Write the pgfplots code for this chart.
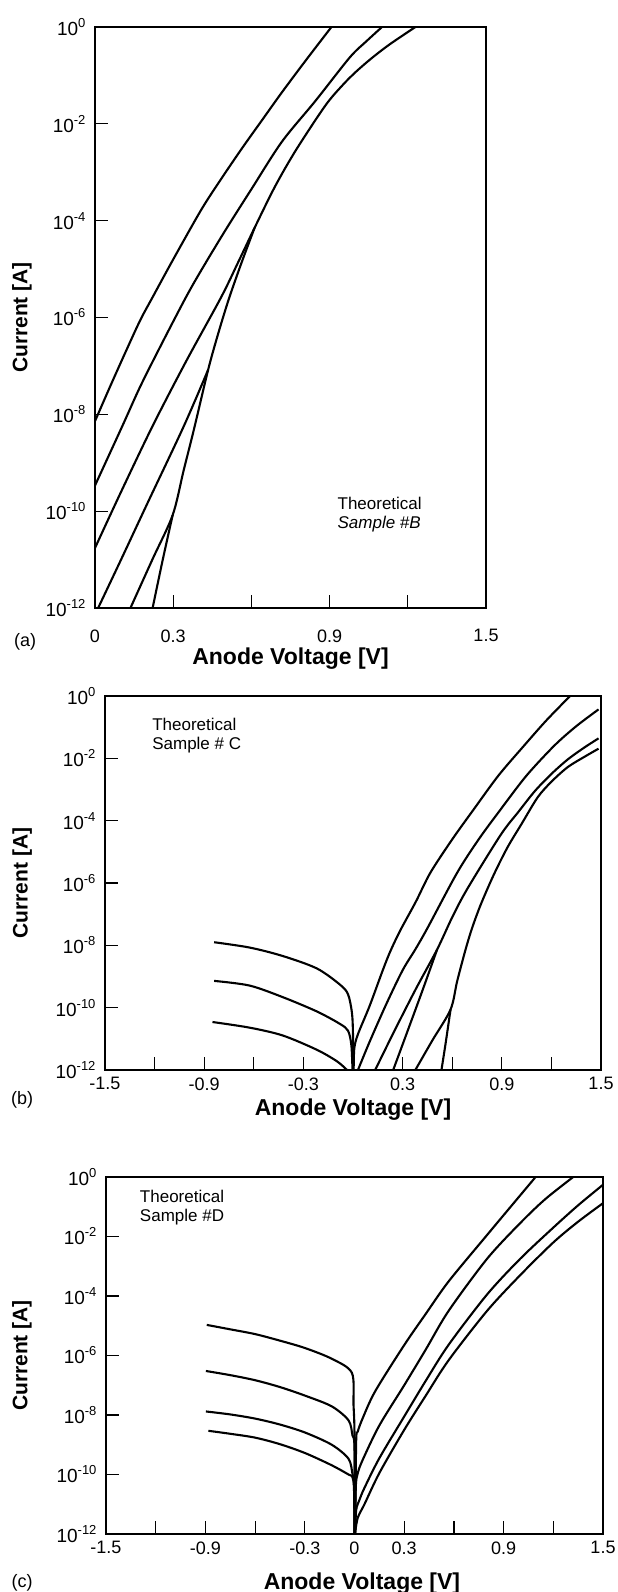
\documentclass[border=0pt]{standalone}
\usepackage{fontspec}
\setmainfont{Liberation Sans}
\usepackage{pgfplots}
\pgfplotsset{compat=1.18}
\newcommand\pw[1]{10\raisebox{0.42em}{\fontsize{13}{13}\selectfont #1}}
\pgfplotsset{
  crv/.style={black, line width=2.1pt, line join=round, smooth, tension=0.5, mark=none},
  every axis/.append style={
    scale only axis,
    clip mode=individual,
    tick align=inside,
    xtick pos=bottom, ytick pos=left,
    major tick length=13pt,
    tick style={black, line width=1.2pt},
    axis line style={line width=1.2pt},
    tick label style={font=\fontsize{18}{18}\selectfont},
    yticklabel style={font=\fontsize{19}{19}\selectfont, xshift=-6pt},
    ylabel style={font=\fontsize{21}{21}\selectfont\bfseries},
    xlabel style={font=\fontsize{23}{23}\selectfont\bfseries},
    ymode=log, ymin=1e-12, ymax=1,
    ytick={1e-12,1e-10,1e-8,1e-6,1e-4,1e-2,1},
    yticklabels={\pw{-12},\pw{-10},\pw{-8},\pw{-6},\pw{-4},\pw{-2},\pw{0}},
  },
}
\begin{document}
\begin{tikzpicture}
\useasboundingbox (0pt,0pt) rectangle (618pt,-1592pt);
% ---------------- (a) ----------------
\begin{axis}[
  at={(95pt,-27pt)}, anchor=north west,
  width=391pt, height=581pt,
  xmin=0, xmax=1.5,
  xtick={0,0.3,0.6,0.9,1.2,1.5},
  xticklabels={0,0.3,,0.9,,1.5},
  xticklabel style={yshift=-18pt},
  ylabel={Current [A]}, xlabel={Anode Voltage [V]},
  ylabel style={at={(axis description cs:-0.187,0.5)}, anchor=center},
  xlabel style={at={(axis description cs:0.5,-0.087)}, anchor=center},
]
\addplot[crv] coordinates {(0,7.24e-9) (0.06,3.98e-8) (0.12,2.09e-7) (0.174,8.91e-7) (0.221,2.63e-6) (0.30,1.585e-5) (0.407,1.66e-4) (0.48,6.76e-4) (0.562,3.02e-3) (0.64,1.175e-2) (0.717,4.47e-2) (0.81,0.209) (0.907,1)};
\addplot[crv] coordinates {(0,3.39e-10) (0.105,5.75e-9) (0.174,3.80e-8) (0.26,3.16e-7) (0.349,2.63e-6) (0.407,9.33e-6) (0.50,6.31e-5) (0.60,4.47e-4) (0.717,4.27e-3) (0.845,2.95e-2) (0.977,0.234) (1.04,0.501) (1.101,1)};
\addplot[crv] coordinates {(0,1.738e-11) (0.10,2.51e-10) (0.221,5.75e-9) (0.35,1.259e-7) (0.484,2.63e-6) (0.55,1.413e-5) (0.612,7.08e-5) (0.69,5.01e-4) (0.77,2.82e-3) (0.884,2.40e-2) (0.95,6.31e-2) (1.00,0.1175) (1.06,0.224) (1.13,0.4365) (1.229,1)};
\addplot[crv] coordinates {(0.012,1e-12) (0.10,1e-11) (0.20,1.413e-10) (0.341,5.75e-9) (0.434,8.32e-8)};
\addplot[crv] coordinates {(0.136,1e-12) (0.22,1e-11) (0.298,8.32e-11) (0.34,6.92e-10) (0.38,5.01e-9) (0.434,8.32e-8) (0.47,4.17e-7) (0.512,2.29e-6) (0.56,1.259e-5) (0.612,7.08e-5)};
\addplot[crv] coordinates {(0.221,1e-12) (0.26,1e-11) (0.298,8.32e-11)};
\node[anchor=north west, inner sep=0pt, align=left, font=\fontsize{17}{19}\selectfont] at (axis description cs:0.62,0.191) {Theoretical\\\textit{Sample \#B}};
\node[font=\fontsize{18}{18}\selectfont] at (axis description cs:-0.179,-0.0585) {(a)};
\end{axis}
% ---------------- (b) ----------------
\begin{axis}[
  at={(105pt,-696pt)}, anchor=north west,
  width=496pt, height=374pt,
  xmin=-1.5, xmax=1.5,
  xtick={-1.5,-1.2,-0.9,-0.6,-0.3,0,0.3,0.6,0.9,1.2,1.5},
  xticklabels={-1.5,,-0.9,,-0.3,,0.3,,0.9,,1.5},
  xticklabel style={yshift=-4pt},
  ylabel={Current [A]}, xlabel={Anode Voltage [V]},
  ylabel style={at={(axis description cs:-0.167,0.5)}, anchor=center},
  xlabel style={at={(axis description cs:0.5,-0.106)}, anchor=center},
]
\addplot[crv] coordinates {(-0.84,1.259e-8) (-0.626,8.51e-9) (-0.426,4.57e-9) (-0.219,1.82e-9) (-0.079,5.50e-10) (-0.03,2.69e-10) (-0.006,6.61e-11) (0,1.259e-11) (0.001,1e-12)};
\addplot[crv] coordinates {(-0.84,7.24e-10) (-0.626,5.13e-10) (-0.426,2.19e-10) (-0.219,7.59e-11) (-0.079,3.02e-11) (-0.03,1.82e-11) (-0.01,6.31e-12) (-0.003,1e-12)};
\addplot[crv] coordinates {(-0.85,3.47e-11) (-0.626,2.29e-11) (-0.426,1.288e-11) (-0.219,4.47e-12) (-0.097,1.905e-12) (-0.036,1e-12)};
\addplot[crv] coordinates {(0.004,1e-12) (0.008,5.01e-12) (0.03,1.413e-11) (0.10,1.122e-10) (0.18,1.585e-9) (0.225,6.31e-9) (0.286,3.02e-8) (0.38,2.51e-7) (0.468,2.14e-6) (0.60,2.51e-5) (0.731,2.34e-4) (0.88,2.82e-3) (1.035,2.57e-2) (1.17,0.166) (1.313,1)};
\addplot[crv] coordinates {(0.03,1e-12) (0.10,7.94e-12) (0.20,1.259e-10) (0.30,1.585e-9) (0.377,7.41e-9) (0.45,3.55e-8) (0.63,2.14e-6) (0.76,2.51e-5) (0.894,2.34e-4) (1.05,2.82e-3) (1.218,2.57e-2) (1.35,0.1072) (1.485,0.3715)};
\addplot[crv] coordinates {(0.134,1e-12) (0.25,1.778e-11) (0.38,3.98e-10) (0.509,7.41e-9) (0.60,7.94e-8) (0.691,6.46e-7) (0.894,3.55e-5) (1.0,1.905e-4) (1.1,8.91e-4) (1.2,3.16e-3) (1.3,9.33e-3) (1.4,2.24e-2) (1.485,4.37e-2)};
\addplot[crv] coordinates {(0.243,1e-12) (0.33,1.778e-11) (0.42,3.55e-10) (0.509,7.41e-9)};
\addplot[crv] coordinates {(0.377,1e-12) (0.48,8.91e-12) (0.59,8.71e-11) (0.63,7.08e-10) (0.681,7.41e-9) (0.72,3.55e-8) (0.772,1.995e-7) (0.85,1.778e-6) (0.934,1.38e-5) (1.02,7.94e-5) (1.117,5.62e-4) (1.2,1.778e-3) (1.299,5.25e-3) (1.4,1.122e-2) (1.485,2.04e-2)};
\addplot[crv] coordinates {(0.535,1e-12) (0.56,7.08e-12) (0.59,8.71e-11)};
\node[anchor=north west, inner sep=0pt, align=left, font=\fontsize{17}{19}\selectfont] at (axis description cs:0.095,0.941) {Theoretical\\Sample \# C};
\node[font=\fontsize{18}{18}\selectfont] at (axis description cs:-0.167,-0.080) {(b)};
\end{axis}
% ---------------- (c) ----------------
\begin{axis}[
  at={(106pt,-1177pt)}, anchor=north west,
  width=497pt, height=357pt,
  xmin=-1.5, xmax=1.5,
  xtick={-1.5,-1.2,-0.9,-0.6,-0.3,0,0.3,0.6,0.9,1.2,1.5},
  xticklabels={-1.5,,-0.9,,-0.3,0,0.3,,0.9,,1.5},
  xticklabel style={yshift=-4pt},
  ylabel={Current [A]}, xlabel={Anode Voltage [V]},
  ylabel style={at={(axis description cs:-0.169,0.5)}, anchor=center},
  xlabel style={at={(axis description cs:0.515,-0.138)}, anchor=center},
]
\addplot[crv] coordinates {(-0.892,1.07e-5) (-0.75,7.59e-6) (-0.6,5.25e-6) (-0.45,3.16e-6) (-0.298,1.778e-6) (-0.137,7.76e-7) (-0.016,2.63e-7) (-0.006,2.24e-8) (0,2.04e-9) (0.001,1e-12)};
\addplot[crv] coordinates {(-0.897,3.02e-7) (-0.75,2.19e-7) (-0.6,1.479e-7) (-0.45,8.71e-8) (-0.298,4.47e-8) (-0.137,1.95e-8) (-0.036,6.61e-9) (-0.012,2.04e-9) (0,7.94e-10) (0.001,1e-12)};
\addplot[crv] coordinates {(-0.897,1.318e-8) (-0.75,1.047e-8) (-0.6,7.59e-9) (-0.45,4.79e-9) (-0.298,2.57e-9) (-0.137,1.0e-9) (-0.036,3.39e-10) (-0.012,1.023e-10) (-0.003,5.01e-11) (0,1e-12)};
\addplot[crv] coordinates {(-0.882,2.95e-9) (-0.75,2.34e-9) (-0.6,1.738e-9) (-0.45,1.047e-9) (-0.298,5.25e-10) (-0.137,2.04e-10) (-0.036,1.0e-10) (-0.012,8.13e-11) (-0.003,3.16e-11) (0,1e-12)};
\addplot[crv] coordinates {(0.004,1e-12) (0.01,1.259e-9) (0.02,2.82e-9) (0.05,7.94e-9) (0.125,6.31e-8) (0.3,2.24e-6) (0.43,2.51e-5) (0.568,3.09e-4) (0.8,1.122e-2) (0.95,0.1122) (1.093,1)};
\addplot[crv] coordinates {(0.004,1e-12) (0.008,3.98e-11) (0.02,1.122e-10) (0.05,3.16e-10) (0.15,4.47e-9) (0.3,1e-7) (0.43,1.585e-6) (0.568,3.16e-5) (0.8,1.778e-3) (1.0,2.82e-2) (1.15,0.1778) (1.32,1)};
\addplot[crv] coordinates {(0.004,1e-12) (0.01,6.31e-12) (0.03,1.413e-11) (0.06,3.55e-11) (0.15,3.55e-10) (0.3,8.91e-9) (0.43,1.413e-7) (0.568,2.29e-6) (0.8,1.122e-4) (1.0,1.778e-3) (1.2,1.995e-2) (1.35,0.1122) (1.5,0.5495)};
\addplot[crv] coordinates {(0.002,1e-12) (0.02,3.55e-12) (0.06,1e-11) (0.15,1.122e-10) (0.3,3.16e-9) (0.43,4.47e-8) (0.568,6.92e-7) (0.8,3.16e-5) (1.0,5.01e-4) (1.2,6.31e-3) (1.35,3.16e-2) (1.5,0.1318)};
\node[anchor=north west, inner sep=0pt, align=left, font=\fontsize{17}{19}\selectfont] at (axis description cs:0.068,0.964) {Theoretical\\Sample \#D};
\node[font=\fontsize{18}{18}\selectfont] at (axis description cs:-0.169,-0.138) {(c)};
\end{axis}
\end{tikzpicture}
\end{document}
